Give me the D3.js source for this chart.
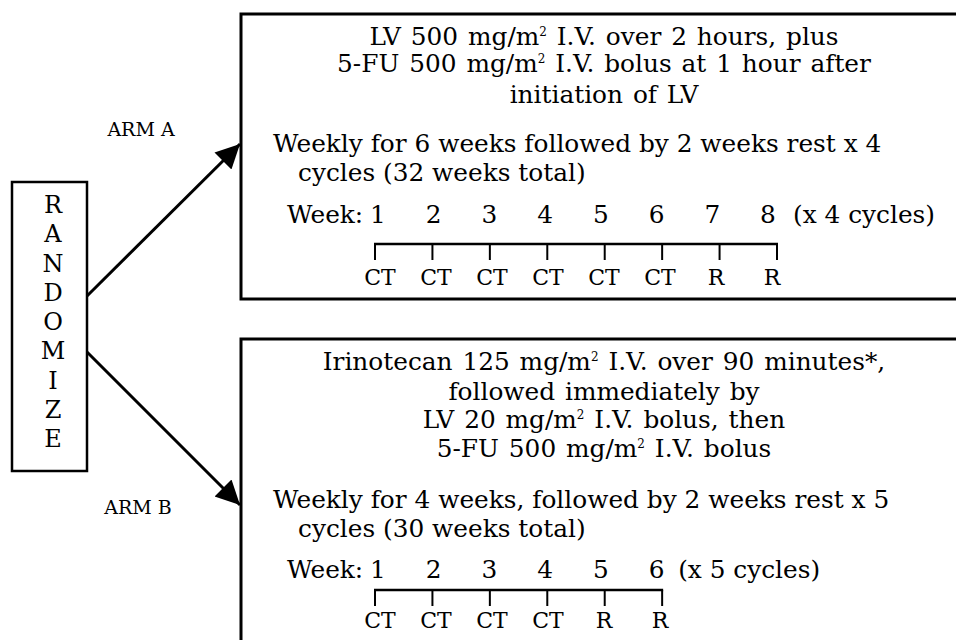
<!DOCTYPE html>
<html>
<head>
<meta charset="utf-8">
<script src="https://cdn.jsdelivr.net/npm/d3@7"></script>
<style>
  body { margin: 0; background: #fff; }
  text { font-family: "DejaVu Serif", serif; fill: #000; }
</style>
</head>
<body>
<script>
// ---- data ----
var randomizeLetters = "RANDOMIZE".split("");

var armALines = [
  ["LV 500 mg/m", "2", " I.V. over 2 hours, plus"],
  ["5-FU 500 mg/m", "2", " I.V. bolus at 1 hour after"],
  ["initiation of LV"]
];
var armASchedule = ["Weekly for 6 weeks followed by 2 weeks rest x 4", "cycles (32 weeks total)"];
var armAWeeks = [1, 2, 3, 4, 5, 6, 7, 8];
var armATreat = ["CT", "CT", "CT", "CT", "CT", "CT", "R", "R"];
var armACycles = "(x 4 cycles)";

var armBLines = [
  ["Irinotecan 125 mg/m", "2", " I.V. over 90 minutes*,"],
  ["followed immediately by"],
  ["LV 20 mg/m", "2", " I.V. bolus, then"],
  ["5-FU 500 mg/m", "2", " I.V. bolus"]
];
var armBSchedule = ["Weekly for 4 weeks, followed by 2 weeks rest x 5", "cycles (30 weeks total)"];
var armBWeeks = [1, 2, 3, 4, 5, 6];
var armBTreat = ["CT", "CT", "CT", "CT", "R", "R"];
var armBCycles = "(x 5 cycles)";

var W = 956, H = 640;
var fs = 24.8;

var svg = d3.select("body").append("svg")
  .attr("width", W)
  .attr("height", H);

svg.append("defs").append("marker")
  .attr("id", "head")
  .attr("viewBox", "0 0 10 10")
  .attr("refX", 10).attr("refY", 5)
  .attr("markerWidth", 8.5).attr("markerHeight", 8)
  .attr("markerUnits", "strokeWidth")
  .attr("orient", "auto")
  .append("path")
  .attr("d", "M0,0 L10,5 L0,10 Z")
  .attr("fill", "#000");

// week scales: ticks, week numbers, treatment labels
var x = d3.scaleLinear().domain([1, 8]).range([375, 777]);
var xNum = d3.scaleLinear().domain([1, 8]).range([378, 768]);
var xLab = d3.scaleLinear().domain([1, 8]).range([380, 772]);

// randomize box
svg.append("rect")
  .attr("x", 12).attr("y", 182).attr("width", 75).attr("height", 289)
  .attr("fill", "none").attr("stroke", "#000").attr("stroke-width", 2.5);

var ly = d3.scaleLinear().domain([0, randomizeLetters.length - 1]).range([213, 447]);
svg.selectAll("text.rand")
  .data(randomizeLetters)
  .enter().append("text")
  .attr("class", "rand")
  .attr("x", 53)
  .attr("y", function(d, i) { return ly(i); })
  .attr("text-anchor", "middle")
  .style("font-size", "24px")
  .text(function(d) { return d; });

// arrows
svg.append("line")
  .attr("x1", 87).attr("y1", 296).attr("x2", 240).attr("y2", 144)
  .attr("stroke", "#000").attr("stroke-width", 3)
  .attr("marker-end", "url(#head)");
svg.append("line")
  .attr("x1", 87).attr("y1", 352).attr("x2", 240).attr("y2", 505)
  .attr("stroke", "#000").attr("stroke-width", 3)
  .attr("marker-end", "url(#head)");

svg.append("text").attr("x", 141).attr("y", 136).attr("text-anchor", "middle")
  .style("font-size", "19px").text("ARM A");
svg.append("text").attr("x", 138).attr("y", 514).attr("text-anchor", "middle")
  .style("font-size", "19px").text("ARM B");

function drawArm(top, bottom, lines, lineYs, schedule, schedY, weeks, treat, cycles, rowY, tlY, trY) {
  var g = svg.append("g");
  g.append("rect")
    .attr("x", 241).attr("y", top).attr("width", 760).attr("height", bottom - top)
    .attr("fill", "none").attr("stroke", "#000").attr("stroke-width", 3);

  lines.forEach(function(parts, i) {
    var t = g.append("text")
      .attr("x", 604).attr("y", lineYs[i])
      .attr("text-anchor", "middle")
      .style("font-size", fs + "px")
      .style("word-spacing", "2px");
    parts.forEach(function(p, j) {
      if (j == 1) {
        t.append("tspan").attr("dy", -9).style("font-size", "12px").text(p);
      } else if (j == 2) {
        t.append("tspan").attr("dy", 9).text(p);
      } else {
        t.append("tspan").text(p);
      }
    });
  });

  g.append("text").attr("x", 273).attr("y", schedY)
    .style("font-size", fs + "px").text(schedule[0]);
  g.append("text").attr("x", 298).attr("y", schedY + 29)
    .style("font-size", fs + "px").text(schedule[1]);

  g.append("text").attr("x", 287).attr("y", rowY)
    .style("font-size", fs + "px").text("Week:");

  g.selectAll("text.wk")
    .data(weeks)
    .enter().append("text")
    .attr("class", "wk")
    .attr("x", function(d) { return xNum(d); })
    .attr("y", rowY)
    .attr("text-anchor", "middle")
    .style("font-size", fs + "px")
    .text(function(d) { return d; });

  g.append("text")
    .attr("x", x(weeks[weeks.length - 1]) + 16)
    .attr("y", rowY)
    .style("font-size", fs + "px")
    .text(cycles);

  g.append("line")
    .attr("x1", x(weeks[0]) - 1).attr("x2", x(weeks[weeks.length - 1]) + 1)
    .attr("y1", tlY).attr("y2", tlY)
    .attr("stroke", "#000").attr("stroke-width", 2.5);

  g.selectAll("line.tick")
    .data(weeks)
    .enter().append("line")
    .attr("class", "tick")
    .attr("x1", function(d) { return x(d); })
    .attr("x2", function(d) { return x(d); })
    .attr("y1", tlY).attr("y2", tlY + 16)
    .attr("stroke", "#000").attr("stroke-width", 2);

  g.selectAll("text.tr")
    .data(treat)
    .enter().append("text")
    .attr("class", "tr")
    .attr("x", function(d, i) { return xLab(weeks[i]); })
    .attr("y", trY)
    .attr("text-anchor", "middle")
    .style("font-size", "22px")
    .text(function(d) { return d; });
}

drawArm(14, 299, armALines, [45, 72, 103], armASchedule, 152, armAWeeks, armATreat, armACycles, 223, 244, 285);
drawArm(339, 700, armBLines, [370, 400, 428, 457], armBSchedule, 508, armBWeeks, armBTreat, armBCycles, 578, 590, 628);
</script>
</body>
</html>
